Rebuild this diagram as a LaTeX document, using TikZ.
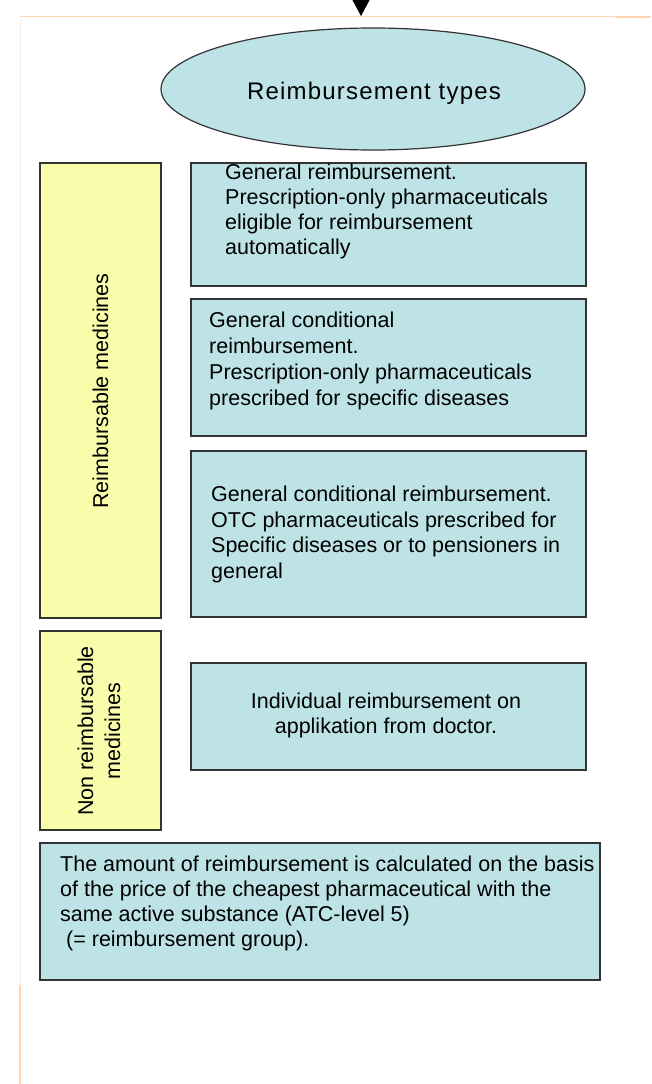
\documentclass[tikz,border=0pt]{standalone}
\usepackage{fontspec}
\setmainfont{Liberation Sans}
\usetikzlibrary{shapes.geometric,arrows.meta,positioning}
\definecolor{paleblue}{HTML}{BEE3E7}
\definecolor{paleyellow}{HTML}{F9FDAB}
\definecolor{edgegray}{HTML}{333333}
\definecolor{pagepeach}{HTML}{FFD6B0}

\tikzset{
  bluebox/.style={draw=edgegray,line width=1.5pt,fill=paleblue,rectangle,inner sep=0pt,minimum width=395pt},
  yellowbox/.style={draw=edgegray,line width=1.5pt,fill=paleyellow,rectangle,inner sep=0pt,minimum width=121pt},
  boxtext/.style={inner sep=0pt,align=left,anchor=north west,font=\fontsize{21.5}{25}\selectfont},
}

\begin{document}
\begin{tikzpicture}[x=1pt,y=-1pt]
\useasboundingbox (0,0) rectangle (651,1084);

% page edges
\draw[pagepeach,line width=1pt] (20,16) -- (615,16);
\draw[pagepeach,line width=2pt] (615,17) -- (651,17);
\draw[black!6] (20,16) -- (20,985);
\draw[pagepeach,line width=1.5pt] (20,985) -- (20,1084);

\coordinate (arrowtop) at (361,-20);
\coordinate (arrowtip) at (361,16);
\draw[-{Triangle[length=16pt,width=17pt]},line width=1pt] (arrowtop) -- (arrowtip);

\node[ellipse,draw=edgegray,line width=1.2pt,fill=paleblue,inner sep=0pt,
  minimum width=424pt,minimum height=122pt] (types) at (373,89) {};
\node[inner sep=0pt,font=\fontsize{24}{28}\selectfont\addfontfeature{LetterSpace=5}] (typestext) at (374,93.5) {Reimbursement types};

% left column
\node[yellowbox,minimum height=455pt] (reimb) at (100.5,390.5) {};
\node[rotate=90,inner sep=0pt,font=\fontsize{21.5}{25}\selectfont] (reimbtext) at (100.5,391) {Reimbursable medicines};
\node[yellowbox,minimum height=199pt] (nonreimb) at (100.5,730.5) {};
\node[rotate=90,inner sep=0pt,align=center,font=\fontsize{21.5}{27}\selectfont] (nonreimbtext) at (99,731) {Non reimbursable\\medicines};

% right column
\node[bluebox,minimum height=123pt] (general) at (388.5,224.5) {};
\node[boxtext] (generaltext) at (225,164) {General reimbursement.\\Prescription-only pharmaceuticals\\eligible for reimbursement\\automatically};
\node[bluebox,minimum height=137pt] (cond) at (388.5,367.5) {};
\node[boxtext,font=\fontsize{21.5}{25.8}\selectfont] (condtext) at (209,312) {General conditional\\reimbursement.\\Prescription-only pharmaceuticals\\prescribed for specific diseases};
\node[bluebox,minimum height=166pt] (otc) at (388.5,534) {};
\node[boxtext,font=\fontsize{21.5}{25.5}\selectfont] (otctext) at (211,486) {General conditional reimbursement.\\OTC pharmaceuticals prescribed for\\Specific diseases or to pensioners in\\general};
\node[bluebox,minimum height=107pt] (indiv) at (388.5,716.5) {};
\node[boxtext,align=center,anchor=north] (indivtext) at (386,693) {Individual reimbursement on\\applikation from doctor.};

% bottom
\node[bluebox,minimum width=560pt,minimum height=137pt] (amount) at (320,911.5) {};
\node[boxtext] (amounttext) at (60,856) {The amount of reimbursement is calculated on the basis\\of the price of the cheapest pharmaceutical with the\\same active substance (ATC-level 5)\\\ (= reimbursement group).};

\end{tikzpicture}
\end{document}
